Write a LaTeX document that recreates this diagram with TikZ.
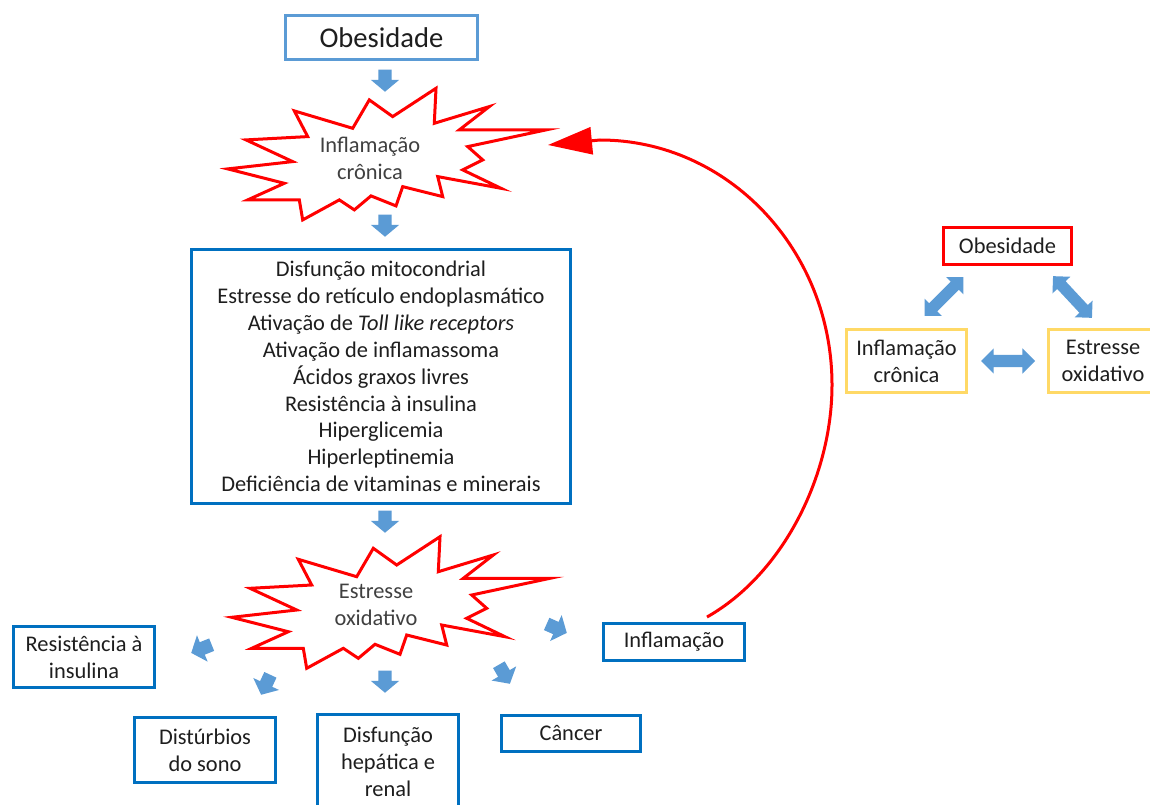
\documentclass[tikz,border=0pt]{standalone}
\usepackage{fontspec}
\setmainfont{Carlito}
\usetikzlibrary{shapes.arrows,arrows.meta}
\definecolor{boxblue}{RGB}{0,112,192}
\definecolor{lightblue}{RGB}{91,155,213}
\definecolor{arrowblue}{RGB}{91,155,213}
\definecolor{gold}{RGB}{255,217,102}
\definecolor{txt}{RGB}{30,30,30}
\definecolor{startxt}{RGB}{64,64,64}
\tikzset{
  explosion/.pic={
    \draw[draw=red, line width=3pt, fill=white]
      (66.6,22.6) -- (125,40) -- (141.6,11.6) -- (165,28.3) -- (208.3,0) --
      (206.6,35) -- (261.6,18.3) -- (231.6,41.6) -- (318.3,41.6) -- (240,58.3) --
      (255,71.6) -- (235,81.6) -- (273.3,100) -- (210,88.3) -- (215,108.3) --
      (175,98.3) -- (168.3,117.6) -- (143.3,107.6) -- (126.6,121.6) -- (111.6,111.6) --
      (75,131.6) -- (71.6,111.6) -- (20,111.6) -- (56.6,95) -- (0,80.6) --
      (65,73.3) -- (18.3,51.6) -- (80,48.3) -- cycle;
  }
}
\begin{document}
\begin{tikzpicture}[x=1pt,y=-1pt,
  every node/.style={font=\fontsize{22.4}{26.9}\selectfont, text=txt, inner sep=0pt},
  bbox/.style={draw=boxblue, line width=3pt, fill=white, align=center},
  ybox/.style={draw=gold, line width=3pt, fill=white, align=center},
  sarrow/.style={single arrow, fill=arrowblue, draw=none, minimum height=22pt,
    inner xsep=0pt, inner ysep=6.5pt, single arrow head extend=7.5pt,
    single arrow tip angle=100, anchor=tip},
  darrow/.style={double arrow, fill=arrowblue, draw=none, minimum height=55pt,
    inner xsep=0pt, inner ysep=5.5pt, double arrow head extend=6.5pt,
    double arrow tip angle=90},
  redcurve/.style={draw=red, line width=3pt, -{Triangle[length=44pt,width=27pt]}}
]
\useasboundingbox[fill=white] (0,0) rectangle (1150,805);

% explosions
\pic at (227.7,88.3) {explosion};
\pic at (231.7,536.7) {explosion};
\node[text=startxt, align=center] (star1txt) at (370,158) {Inflamação\\crônica};
\node[text=startxt, align=center] (star2txt) at (376,605) {Estresse\\oxidativo};

% main column
\node[draw=lightblue, line width=3.5pt, minimum width=192pt, minimum height=44pt,
  font=\fontsize{28.6}{34}\selectfont] (obes) at (381.5,37.5) {Obesidade};
\node[bbox, minimum width=379pt, minimum height=254pt] (mainbox) at (381,376.5)
  {Disfunção mitocondrial\\Estresse do retículo endoplasmático\\Ativação de \textit{Toll like receptors}\\Ativação de inflamassoma\\Ácidos graxos livres\\Resistência à insulina\\Hiperglicemia\\Hiperleptinemia\\Deficiência de vitaminas e minerais};

% bottom boxes
\node[bbox, minimum width=141pt, minimum height=61pt] (resist) at (84,657) {Resistência à\\insulina};
\node[bbox, minimum width=141pt, minimum height=65pt] (disturb) at (205,750) {Distúrbios\\do sono};
\node[bbox, minimum width=141pt, minimum height=96pt] (disfunc) at (388,762) {Disfunção\\hepática e\\renal};
\node[bbox, minimum width=139pt, minimum height=36pt] (cancer) at (571,733.5) {Câncer};
\node[bbox, minimum width=141pt, minimum height=37pt] (inflam) at (674,642) {Inflamação};

% block arrows
\node[sarrow, rotate=-90] (a1) at (385,92) {};
\node[sarrow, rotate=-90] (a2) at (385,237) {};
\node[sarrow, rotate=-90] (a3) at (385,533) {};
\node[sarrow, rotate=202] (a4) at (191,653) {};
\node[sarrow, rotate=245] (a5) at (261,695) {};
\node[sarrow, rotate=-90] (a6) at (385,693) {};
\node[sarrow, rotate=-60] (a7) at (510,684) {};
\node[sarrow, rotate=-24] (a8) at (567,633) {};

% feedback curve
\coordinate (loopS) at ([xshift=33pt,yshift=5pt]inflam.north);
\coordinate (loopE) at (548,145);
\draw[redcurve] (loopS) .. controls (783,574) and (832,476) .. (832,385)
  .. controls (832,250) and (728,140) .. (600,140) -- (loopE);

% right triangle
\node[draw=red, line width=3pt, minimum width=128pt, minimum height=37pt] (robes) at (1007.5,246) {Obesidade};
\node[ybox, minimum width=120pt, minimum height=63pt] (rinfl) at (906.5,361) {Inflamação\\crônica};
\node[ybox, minimum width=110pt, minimum height=63pt] (rstress) at (1103,361) {Estresse\\oxidativo};
\node[darrow, rotate=45] (da1) at (944,296.5) {};
\node[darrow, rotate=-47, minimum height=57pt] (da2) at (1072.5,297) {};
\node[darrow, minimum height=54pt, inner ysep=6pt] (da3) at (1008,361) {};
\end{tikzpicture}
\end{document}
